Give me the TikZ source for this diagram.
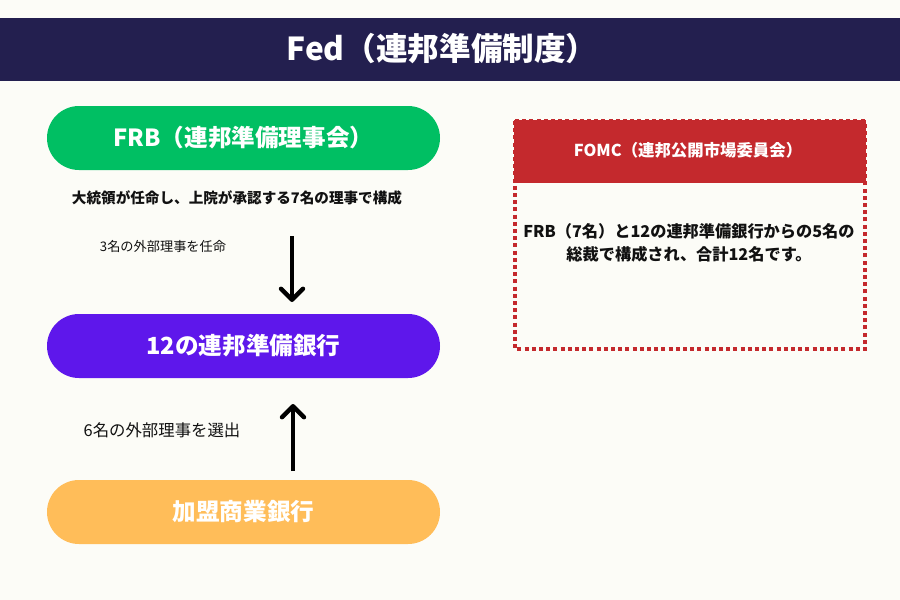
\documentclass[tikz,border=0pt]{standalone}
\usepackage{fontspec}
\setmainfont{Noto Sans CJK JP}
\usetikzlibrary{arrows.meta, shapes.misc}
\definecolor{page-bg}{HTML}{FCFCF7}
\definecolor{title-bar}{HTML}{231F4F}
\definecolor{frb-green}{HTML}{00BF63}
\definecolor{bank-purple}{HTML}{5E17EB}
\definecolor{member-orange}{HTML}{FFBD59}
\definecolor{fomc-red}{HTML}{C4292D}
\definecolor{ink}{HTML}{111111}
\tikzset{
  pill/.style={
    rounded rectangle, minimum width=196.5pt, minimum height=32pt,
    inner sep=0pt, text=white, font=\fontsize{11.8}{14}\selectfont\bfseries
  },
  headline/.style={font=\fontsize{15.8}{18}\selectfont\bfseries, text=white},
  caption/.style={font=\fontsize{7.3}{8.5}\selectfont\bfseries, text=ink},
  sidenote/.style={font=\fontsize{6.6}{8}\selectfont, text=ink},
  bignote/.style={font=\fontsize{8.2}{10}\selectfont, text=ink},
  fomchead/.style={font=\fontsize{8.2}{10}\selectfont\bfseries, text=white},
  fomcbody/.style={font=\fontsize{8.1}{11.5}\selectfont\bfseries, text=ink, align=center},
  link/.style={line width=2.2pt, draw=black, -{Straight Barb[length=5.5pt, width=11pt, round]}}
}

\begin{document}
\begin{tikzpicture}[x=0.5pt, y=-0.5pt]

  % ---- Page and title bar --------------------------------------------------
  \fill[page-bg] (0,0) rectangle (900,600);
  \useasboundingbox (0,0) rectangle (900,600);
  \fill[title-bar] (0,18) rectangle (900,81);
  \node[headline] (title) at (442,49) {Fed（連邦準備制度）};

  % ---- Left column: FRB, reserve banks, member banks -----------------------
  \node[pill, fill=frb-green] (frb) at (243.5,138) {FRB（連邦準備理事会）};
  \node[caption] (frbnote) at (237,198) {大統領が任命し、上院が承認する7名の理事で構成};

  \node[sidenote] (appoint) at (163,246) {3名の外部理事を任命};
  \coordinate (appointTail) at (292,236);
  \coordinate (appointHead) at (292,302);
  \draw[link] (appointTail) -- (appointHead);

  \node[pill, fill=bank-purple] (reserve) at (243.5,346) {12の連邦準備銀行};

  \node[bignote] (elect) at (162,430) {6名の外部理事を選出};
  \coordinate (electTail) at (293,471);
  \coordinate (electHead) at (293,404);
  \draw[link] (electTail) -- (electHead);

  \node[pill, fill=member-orange] (member) at (243.5,512) {加盟商業銀行};

  % ---- Right column: FOMC box -----------------------------------------------
  \fill[fomc-red] (514,120) rectangle (866,183);
  \draw[fomc-red, line width=2.2pt, dash pattern=on 2pt off 1.6pt]
    (515,121) rectangle (865,349);
  \node[fomchead] (fomc) at (688,150) {FOMC（連邦公開市場委員会）};
  \node[fomcbody] (fomcnote) at (689,243)
    {FRB（7名）と12の連邦準備銀行からの5名の\\総裁で構成され、合計12名です。};

\end{tikzpicture}
\end{document}
